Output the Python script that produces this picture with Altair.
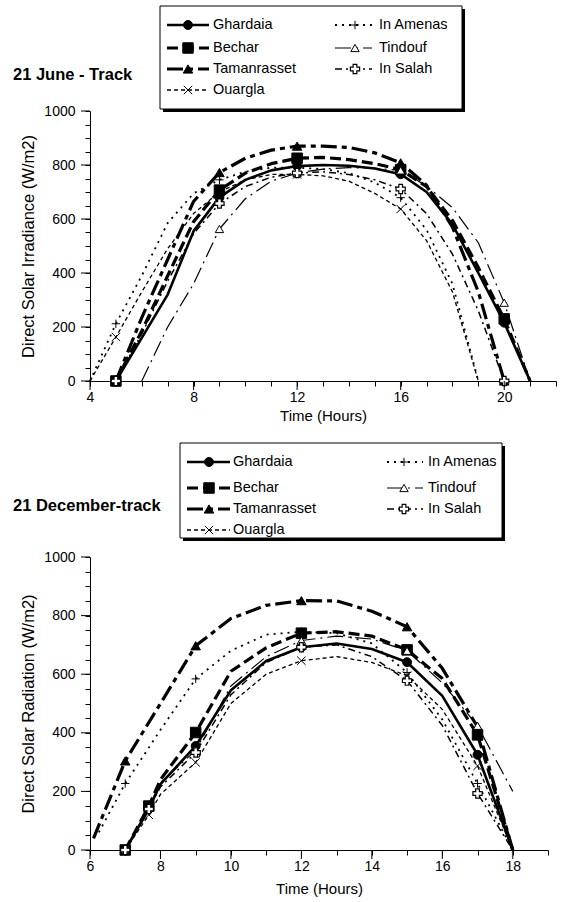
import altair as alt
import pandas as pd

FONT = "Liberation Sans"
SERIES = ["Ghardaia", "Bechar", "Tamanrasset", "Ouargla", "In Amenas", "Tindouf", "In Salah"]

# ---------------- 21 June (track) ----------------
june_hours_ghardaia = [5, 6, 7, 8, 9, 10, 11, 12, 13, 14, 15, 16, 17, 18, 19, 20, 21]
june_ghardaia = [0, 160, 320, 555, 680, 745, 780, 796, 800, 797, 787, 766, 700, 580, 400, 216, 0]
june_hours_bechar = [5, 6, 7, 8, 9, 10, 11, 12, 13, 14, 15, 16, 17, 18, 19, 20, 21]
june_bechar = [0, 185, 390, 590, 707, 770, 805, 825, 828, 820, 805, 783, 720, 595, 420, 230, 0]
june_hours_tamanrasset = [5, 6, 7, 8, 9, 10, 11, 12, 13, 14, 15, 16, 17, 18, 19, 20]
june_tamanrasset = [0, 235, 450, 665, 772, 825, 855, 870, 870, 865, 845, 808, 725, 570, 330, 0]
june_hours_ouargla = [4, 5, 6, 7, 8, 9, 10, 11, 12, 13, 14, 15, 16, 17, 18, 19]
june_ouargla = [0, 163, 330, 490, 620, 700, 745, 765, 765, 760, 740, 695, 637, 520, 330, 0]
june_hours_in_amenas = [4, 5, 6, 7, 8, 9, 10, 11, 12, 13, 14, 15, 16, 17, 18, 19]
june_in_amenas = [0, 212, 390, 585, 695, 745, 775, 790, 790, 785, 770, 735, 679, 560, 360, 0]
june_hours_tindouf = [6, 7, 8, 9, 10, 11, 12, 13, 14, 15, 16, 17, 18, 19, 20, 21]
june_tindouf = [0, 200, 360, 563, 675, 740, 770, 785, 790, 788, 780, 722, 642, 512, 290, 0]
june_hours_in_salah = [5, 6, 7, 8, 9, 10, 11, 12, 13, 14, 15, 16, 17, 18, 19, 20]
june_in_salah = [0, 175, 370, 545, 657, 720, 755, 770, 775, 765, 745, 711, 620, 470, 260, 0]
june_marker_hours = [5, 9, 12, 16, 20]

# ---------------- 21 December (track) ----------------
dec_hours = [7, 7.67, 8, 9, 10, 11, 12, 13, 14, 15, 16, 17, 18]
dec_ghardaia = [0, 140, 225, 355, 545, 645, 692, 705, 686, 641, 526, 325, 0]
dec_bechar = [0, 150, 240, 401, 610, 690, 740, 745, 730, 683, 585, 393, 0]
dec_hours_tamanrasset = [6.1, 7, 8, 9, 10, 11, 12, 13, 14, 15, 16, 17, 18]
dec_tamanrasset = [40, 304, 500, 697, 790, 835, 851, 850, 815, 762, 620, 420, 0]
dec_ouargla = [0, 120, 190, 299, 500, 600, 646, 660, 640, 595, 480, 287, 0]
dec_hours_in_amenas = [6.25, 7, 8, 9, 10, 11, 12, 13, 14, 15, 16, 17, 18]
dec_in_amenas = [60, 227, 410, 584, 680, 735, 745, 740, 705, 606, 445, 227, 0]
dec_tindouf = [0, 145, 230, 340, 560, 660, 715, 730, 720, 680, 570, 424, 200]
dec_in_salah = [0, 140, 215, 333, 530, 640, 692, 700, 660, 578, 425, 193, 0]
dec_marker_hours = [7, 7.67, 9, 12, 15, 17]

JUNE = {
    "Ghardaia": (june_hours_ghardaia, june_ghardaia),
    "Bechar": (june_hours_bechar, june_bechar),
    "Tamanrasset": (june_hours_tamanrasset, june_tamanrasset),
    "Ouargla": (june_hours_ouargla, june_ouargla),
    "In Amenas": (june_hours_in_amenas, june_in_amenas),
    "Tindouf": (june_hours_tindouf, june_tindouf),
    "In Salah": (june_hours_in_salah, june_in_salah),
}
DEC = {
    "Ghardaia": (dec_hours, dec_ghardaia),
    "Bechar": (dec_hours, dec_bechar),
    "Tamanrasset": (dec_hours_tamanrasset, dec_tamanrasset),
    "Ouargla": (dec_hours, dec_ouargla),
    "In Amenas": (dec_hours_in_amenas, dec_in_amenas),
    "Tindouf": (dec_hours, dec_tindouf),
    "In Salah": (dec_hours, dec_in_salah),
}

STYLE = {
    "Ghardaia": dict(dash=None, width=2.6, shape="circle", fill="black", size=80, sw=1),
    "Bechar": dict(dash=[11, 5], width=3.2, shape="square", fill="black", size=110, sw=1),
    "Tamanrasset": dict(dash=[16, 5, 5, 5], width=3.2, shape="triangle-up", fill="black", size=90, sw=1),
    "Ouargla": dict(dash=[4, 3], width=1.3, shape="M-1,-1L1,1M-1,1L1,-1", fill=None, size=70, sw=1),
    "In Amenas": dict(dash=[2, 5], width=1.8, shape="M-1,0L1,0M0,-1L0,1", fill=None, size=70, sw=1),
    "Tindouf": dict(dash=[16, 5, 2, 5], width=1.2, shape="triangle-up", fill="white", size=70, sw=1),
    "In Salah": dict(dash=[7, 4, 2, 4], width=1.5, shape="cross", fill="white", size=85, sw=1.2),
}


def line_kw(name):
    st = STYLE[name]
    kw = dict(color="black", strokeWidth=st["width"], strokeCap="butt", strokeJoin="round")
    if st["dash"]:
        kw["strokeDash"] = st["dash"]
    return kw


def point_kw(name):
    st = STYLE[name]
    kw = dict(shape=st["shape"], size=st["size"], opacity=1, strokeWidth=st["sw"],
              stroke="black", color="black")
    if st["fill"] is None:
        kw["filled"] = False
    else:
        kw["filled"] = True
        kw["fill"] = st["fill"]
    return kw


def build_panel(data, marker_hours, xdom, xvals, xmajor, xmod, width, height, ytitle,
                title, title_y, box, rows, lcol, rcol, xtitle_pad):
    yvals = list(range(0, 1001, 50))
    ymajor = list(range(0, 1001, 200))
    x_enc = alt.X("Hour:Q", scale=alt.Scale(domain=xdom, nice=False, zero=False),
                  axis=alt.Axis(values=xvals, labelExpr=f"datum.value % {xmod} === 0 ? datum.label : ''",
                                title="Time (Hours)", format="d", tickSize=5, labelPadding=4,
                                titlePadding=xtitle_pad, labelFontSize=14, titleFontSize=15,
                                labelOverlap=False, labelFlush=False))
    y_enc = alt.Y("Value:Q", scale=alt.Scale(domain=[0, 1000], nice=False),
                  axis=alt.Axis(values=yvals, labelExpr="datum.value % 200 === 0 ? datum.label : ''",
                                title=ytitle, format="d", tickSize=5, labelPadding=10, titlePadding=7,
                                labelFontSize=14, titleFontSize=16.5, labelOverlap=False))
    layers = []
    for name in SERIES:
        h, v = data[name]
        df = pd.DataFrame({"Hour": h, "Value": v})
        layers.append(alt.Chart(df).mark_line(**line_kw(name)).encode(x=x_enc, y=y_enc))
    for name in SERIES:
        h, v = data[name]
        df = pd.DataFrame({"Hour": h, "Value": v})
        df = df[df["Hour"].round(2).isin([round(m, 2) for m in marker_hours])]
        layers.append(alt.Chart(df).mark_point(**point_kw(name)).encode(x=x_enc, y=y_enc))
    # major ticks (longer)
    layers.append(alt.Chart(pd.DataFrame({"Value": ymajor})).mark_rule(color="black", strokeWidth=1)
                  .encode(y=y_enc, x=alt.value(-9), x2=alt.value(0)))
    layers.append(alt.Chart(pd.DataFrame({"Hour": xmajor})).mark_rule(color="black", strokeWidth=1)
                  .encode(x=x_enc, y=alt.value(height), y2=alt.value(height + 9)))
    # title
    layers.append(alt.Chart(pd.DataFrame({"t": [title]})).mark_text(
        align="left", baseline="middle", font=FONT, fontSize=16.5, fontWeight="bold", color="black")
        .encode(x=alt.value(-77), y=alt.value(title_y), text="t:N"))
    # legend box + shadow
    bx0, by0, bx1, by1 = box
    one = pd.DataFrame({"a": [0]})
    layers.append(alt.Chart(one).mark_rect(fill="black").encode(
        x=alt.value(bx0 + 3), x2=alt.value(bx1 + 3), y=alt.value(by0 + 3), y2=alt.value(by1 + 3)))
    layers.append(alt.Chart(one).mark_rect(fill="white", stroke="black", strokeWidth=1).encode(
        x=alt.value(bx0), x2=alt.value(bx1), y=alt.value(by0), y2=alt.value(by1)))
    for i, name in enumerate(SERIES):
        col = lcol if i < 4 else rcol
        ry = rows[i if i < 4 else i - 4]
        lx0, lx1, mx, tx = col
        d = pd.DataFrame({"name": [name]})
        layers.append(alt.Chart(d).mark_rule(**line_kw(name)).encode(
            x=alt.value(lx0), x2=alt.value(lx1), y=alt.value(ry)))
        layers.append(alt.Chart(d).mark_point(**point_kw(name)).encode(x=alt.value(mx), y=alt.value(ry)))
        layers.append(alt.Chart(d).mark_text(align="left", baseline="middle", font=FONT, fontSize=14.5,
                                             color="black")
                      .encode(x=alt.value(tx), y=alt.value(ry), text="name:N"))
    return alt.layer(*layers).properties(width=width, height=height)


top = build_panel(JUNE, june_marker_hours, [4, 22], list(range(4, 23)), [4, 8, 12, 16, 20], 4,
                  466, 270, "Direct Solar Irradiance (W/m2)", "21 June - Track", -36,
                  (70, -105, 372, -2), [-86, -63, -42, -21], (77, 119, 98, 123), (245, 282, 265, 289), 4)

bottom = build_panel(DEC, dec_marker_hours, [6, 19], [6 + 0.5 * k for k in range(27)],
                     [6, 8, 10, 12, 14, 16, 18], 2,
                     458, 293, "Direct Solar Radiation (W/m2)", "21 December-track", -51,
                     (90, -114, 412, -19), [-95, -69, -48, -27], (97, 140, 119, 143), (297, 333, 314, 338), 8)

chart = alt.vconcat(top, bottom, spacing=176, bounds="flush").configure_view(stroke=None).configure_axis(
    grid=False, domainColor="black", tickColor="black", labelColor="black", titleColor="black",
    labelFont=FONT, titleFont=FONT, titleFontWeight="normal", domainWidth=1, tickWidth=1
).properties(padding={"left": 13, "top": 5, "right": 5, "bottom": 5}, background="white")

chart.save("out.html", embed_options={"renderer": "svg", "actions": False})
